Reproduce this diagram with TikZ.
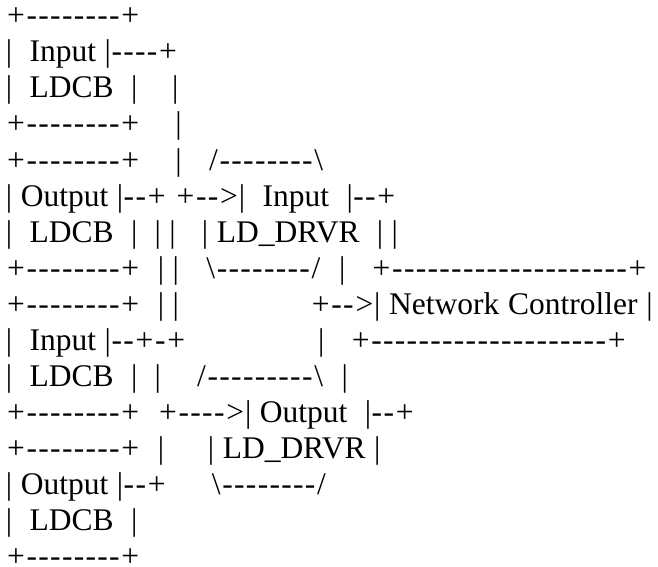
\documentclass[tikz,border=0pt]{standalone}
\usepackage{fontspec}
\setmainfont{Liberation Serif}
% fixed advance widths for the drawing characters
\newlength\wP \setlength\wP{20pt}
\newlength\wD \setlength\wD{11.8pt}
\newlength\wS \setlength\wS{8.8pt}
\newlength\wB \setlength\wB{6pt}
\newlength\wL \setlength\wL{11pt}
\newlength\wG \setlength\wG{20pt}
\newcount\rep
\newcommand\Pl{\makebox[\wP][c]{+}}
\newcommand\Br{\makebox[\wB][c]{|}}
\newcommand\Sl{\makebox[\wL][c]{/}}
\newcommand\Bk{\makebox[\wL][c]{\textbackslash}}
\newcommand\Gt{\makebox[\wG][c]{>}}
\newcommand\Dn[1]{\rep=0 \loop\ifnum\rep<#1 \makebox[\wD][c]{-}\advance\rep by 1 \repeat}
\newcommand\Sp[1]{\hspace*{#1\wS}}
\tikzset{row/.style={anchor=base west, inner sep=0pt, outer sep=0pt,
  text depth=0pt, font=\fontsize{31.5}{36}\selectfont}}
\begin{document}
\begin{tikzpicture}
\fill[white] (0pt,0pt) rectangle (658pt,-567pt);
\useasboundingbox (0pt,0pt) rectangle (658pt,-567pt);
\node[row] (r1)  at (6pt,-26pt)  {\Pl\Dn{8}\Pl};
\node[row] (r2)  at (6pt,-62pt)  {\Br\Sp{2}Input\Sp{1}\Br\Dn{4}\Pl};
\node[row] (r3)  at (6pt,-98pt)  {\Br\Sp{2}LDCB\Sp{2}\Br\Sp{4}\Br};
\node[row] (r4)  at (6pt,-134pt) {\Pl\Dn{8}\Pl\Sp{4}\Br};
\node[row] (r5)  at (6pt,-170pt) {\Pl\Dn{8}\Pl\Sp{4}\Br\Sp{3}\Sl\Dn{8}\Bk};
\node[row] (r6)  at (6pt,-206pt) {\Br\Sp{1}Output\Sp{1}\Br\Dn{2}\Pl\Sp{1}\Pl\Dn{2}\Gt\Br\Sp{2}Input\Sp{2}\Br\Dn{2}\Pl};
\node[row] (r7)  at (6pt,-242pt) {\Br\Sp{2}LDCB\Sp{2}\Br\Sp{2}\Br\Sp{1}\Br\Sp{3}\Br\Sp{1}LD\_DRVR\Sp{2}\Br\Sp{1}\Br};
\node[row] (r8)  at (6pt,-278pt) {\Pl\Dn{8}\Pl\Sp{2}\Br\Sp{1}\Br\Sp{3}\Bk\Dn{8}\Sl\Sp{2}\Br\Sp{3}\Pl\Dn{20}\Pl};
\node[row] (r9)  at (6pt,-314pt) {\Pl\Dn{8}\Pl\Sp{2}\Br\Sp{1}\Br\Sp{15}\Pl\Dn{2}\Gt\Br\Sp{1}Network\Sp{1}Controller\Sp{1}\Br};
\node[row] (r10) at (6pt,-350pt) {\Br\Sp{2}Input\Sp{1}\Br\Dn{2}\Pl\Dn{1}\Pl\Sp{15}\Br\Sp{3}\Pl\Dn{20}\Pl};
\node[row] (r11) at (6pt,-386pt) {\Br\Sp{2}LDCB\Sp{2}\Br\Sp{2}\Br\Sp{4}\Sl\Dn{9}\Bk\Sp{2}\Br};
\node[row] (r12) at (6pt,-422pt) {\Pl\Dn{8}\Pl\Sp{2}\Pl\Dn{4}\Gt\Br\Sp{1}Output\Sp{2}\Br\Dn{2}\Pl};
\node[row] (r13) at (6pt,-458pt) {\Pl\Dn{8}\Pl\Sp{2}\Br\Sp{5}\Br\Sp{1}LD\_DRVR\Sp{1}\Br};
\node[row] (r14) at (6pt,-494pt) {\Br\Sp{1}Output\Sp{1}\Br\Dn{2}\Pl\Sp{5}\Bk\Dn{8}\Sl};
\node[row] (r15) at (6pt,-530pt) {\Br\Sp{2}LDCB\Sp{2}\Br};
\node[row] (r16) at (6pt,-566pt) {\Pl\Dn{8}\Pl};
\end{tikzpicture}
\end{document}
